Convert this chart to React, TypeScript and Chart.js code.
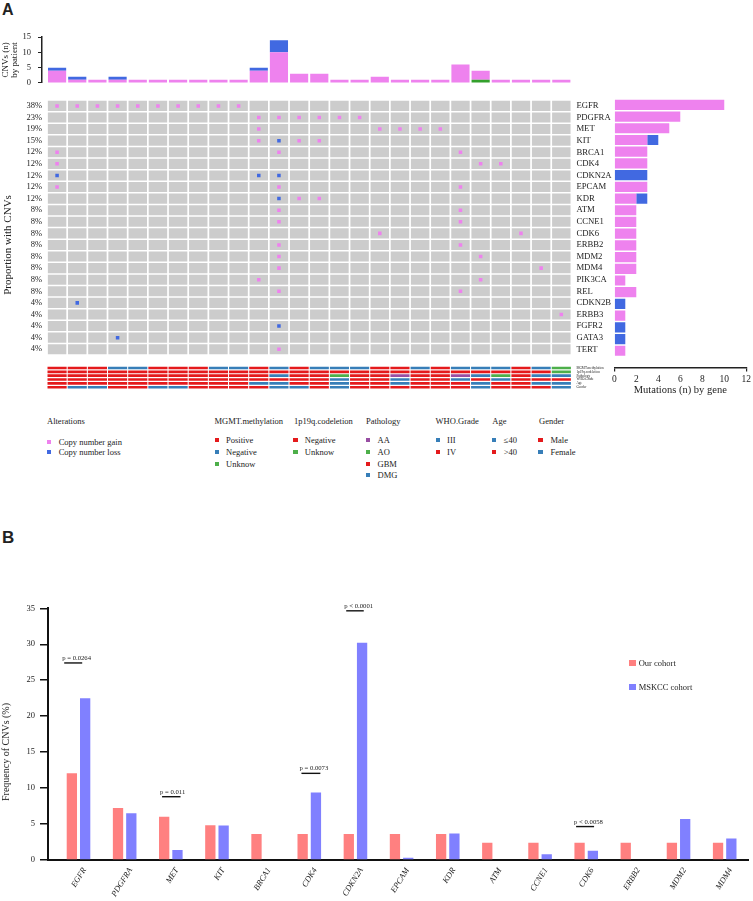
import React, { useEffect, useRef } from "react";
import { Chart, registerables } from "chart.js";
Chart.register(...registerables);

const SERIF = "'Liberation Serif', 'Times New Roman', Times, serif";
const SANS = "'Liberation Sans', Arial, sans-serif";
const TXT = "#222222";
const PINK = "#EE82EE";
const BLUE = "#4169E1";
const GREEN_OTHER = "#33A02C";
const GRAY = "#CCCCCC";
const RED = "#E41A1C";
const SBLUE = "#377EB8";
const SGREEN = "#4DAF4A";
const PURPLE = "#984EA3";
const SALMON = "#FF8080";
const LAVENDER = "#8080FF";

Chart.defaults.font.family = SERIF;
Chart.defaults.color = TXT;

// ---------------- Panel A data ----------------
const nPatients = 26;
const gainPerPatient = [4, 1, 1, 1, 1, 1, 1, 1, 1, 1, 4, 10, 3, 3, 1, 1, 2, 1, 1, 1, 6, 3, 1, 1, 1, 1];
const lossPerPatient = [1, 1, 0, 1, 0, 0, 0, 0, 0, 0, 1, 4, 0, 0, 0, 0, 0, 0, 0, 0, 0, 0, 0, 0, 0, 0];
const otherPerPatient = [0, 0, 0, 0, 0, 0, 0, 0, 0, 0, 0, 0, 0, 0, 0, 0, 0, 0, 0, 0, 0, 1, 0, 0, 0, 0];
const topTicks = [0, 5, 10, 15];

const genes = ["EGFR", "PDGFRA", "MET", "KIT", "BRCA1", "CDK4", "CDKN2A", "EPCAM", "KDR", "ATM", "CCNE1", "CDK6", "ERBB2", "MDM2", "MDM4", "PIK3CA", "REL", "CDKN2B", "ERBB3", "FGFR2", "GATA3", "TERT"];
const genePct = ["38%", "23%", "19%", "15%", "12%", "12%", "12%", "12%", "12%", "8%", "8%", "8%", "8%", "8%", "8%", "8%", "8%", "4%", "4%", "4%", "4%", "4%"];
// patients (column index) with copy number gain, per gene
const gainCells = [
  [0, 1, 2, 3, 4, 5, 6, 7, 8, 9],
  [10, 11, 12, 13, 14, 15],
  [10, 16, 17, 18, 19],
  [10, 12, 13],
  [0, 11, 20],
  [0, 21, 22],
  [],
  [0, 11, 20],
  [12, 13],
  [11, 20],
  [11, 20],
  [16, 23],
  [11, 20],
  [11, 21],
  [11, 24],
  [10, 21],
  [11, 20],
  [],
  [25],
  [],
  [],
  [11],
];
// patients with copy number loss, per gene
const lossCells = [[], [], [], [11], [], [], [0, 10, 11], [], [11], [], [], [], [], [], [], [], [], [1], [], [11], [3], []];
const geneGainCount = [10, 6, 5, 3, 3, 3, 0, 3, 2, 2, 2, 2, 2, 2, 2, 1, 2, 0, 1, 0, 0, 1];
const geneLossCount = [0, 0, 0, 1, 0, 0, 3, 0, 1, 0, 0, 0, 0, 0, 0, 0, 0, 1, 0, 1, 1, 0];
const geneAxisTicks = [0, 2, 4, 6, 8, 10, 12];

const trackNames = ["MGMT.methylation", "1p19q.codeletion", "Pathology", "WHO.Grade", "Age", "Gender"];
const mgmt = ["Positive", "Positive", "Positive", "Negative", "Negative", "Positive", "Positive", "Positive", "Negative", "Negative", "Positive", "Negative", "Positive", "Negative", "Negative", "Negative", "Positive", "Positive", "Negative", "Positive", "Negative", "Negative", "Negative", "Positive", "Negative", "Unknow"];
const codeletion = ["Negative", "Negative", "Negative", "Negative", "Negative", "Negative", "Negative", "Negative", "Negative", "Negative", "Negative", "Negative", "Negative", "Negative", "Negative", "Negative", "Negative", "Negative", "Negative", "Negative", "Negative", "Negative", "Negative", "Negative", "Negative", "Unknow"];
const pathology = ["GBM", "GBM", "GBM", "GBM", "GBM", "GBM", "GBM", "GBM", "GBM", "GBM", "GBM", "DMG", "GBM", "GBM", "AO", "GBM", "GBM", "AA", "GBM", "GBM", "AA", "DMG", "AO", "GBM", "DMG", "DMG"];
const whoGrade = ["IV", "IV", "IV", "IV", "IV", "IV", "IV", "IV", "IV", "IV", "IV", "IV", "IV", "IV", "III", "IV", "IV", "III", "IV", "IV", "III", "IV", "III", "IV", "IV", "IV"];
const age = [">40", ">40", ">40", ">40", ">40", ">40", ">40", ">40", ">40", ">40", "≤40", "≤40", ">40", ">40", "≤40", ">40", ">40", "≤40", ">40", ">40", ">40", "≤40", ">40", ">40", "≤40", "≤40"];
const gender = ["Male", "Female", "Female", "Male", "Male", "Female", "Female", "Male", "Male", "Male", "Male", "Female", "Female", "Male", "Female", "Male", "Male", "Male", "Male", "Male", "Male", "Female", "Male", "Male", "Male", "Female"];

const mgmtLevels = ["Positive", "Negative", "Unknow"];
const mgmtColors = [RED, SBLUE, SGREEN];
const codelLevels = ["Negative", "Unknow"];
const codelColors = [RED, SGREEN];
const pathLevels = ["AA", "AO", "GBM", "DMG"];
const pathColors = [PURPLE, SGREEN, RED, SBLUE];
const whoLevels = ["III", "IV"];
const whoColors = [SBLUE, RED];
const ageLevels = ["≤40", ">40"];
const ageColors = [SBLUE, RED];
const genderLevels = ["Male", "Female"];
const genderColors = [RED, SBLUE];

const altLevels = ["Copy number gain", "Copy number loss"];
const altColors = [PINK, BLUE];

// ---------------- Panel B data ----------------
const cnvGenes = ["EGFR", "PDGFRA", "MET", "KIT", "BRCA1", "CDK4", "CDKN2A", "EPCAM", "KDR", "ATM", "CCNE1", "CDK6", "ERBB2", "MDM2", "MDM4"];
const ourCohort = [12.05, 7.23, 6.02, 4.82, 3.61, 3.61, 3.61, 3.61, 3.61, 2.41, 2.41, 2.41, 2.41, 2.41, 2.41];
const mskccCohort = [22.5, 6.5, 1.4, 4.8, 0, 9.4, 30.2, 0.3, 3.7, 0, 0.8, 1.3, 0, 5.7, 3.0];
const pGene = [0, 2, 5, 6, 11];
const pText = ["p = 0.0264", "p = 0.011", "p = 0.0073", "p < 0.0001", "p < 0.0058"];
const pLevel = [27.4, 8.8, 12.05, 34.65, 4.65];
const pFrom = [-0.31, -0.19, -0.17, -0.2, -0.22];
const pTo = [0.08, 0.21, 0.24, 0.18, 0.17];
const freqTicks = [0, 5, 10, 15, 20, 25, 30, 35];

// ---------------- layout constants ----------------
const ROWS = genes.length;
const TRACK_START = 23.0;
const TRACK_PITCH = 0.333;
const TRACK_H = 0.23;
const GRID_MAX = TRACK_START + TRACK_PITCH * 6;
const ROW_PX = 11.71;

const tracks = [
  { values: mgmt, levels: mgmtLevels, colors: mgmtColors },
  { values: codeletion, levels: codelLevels, colors: codelColors },
  { values: pathology, levels: pathLevels, colors: pathColors },
  { values: whoGrade, levels: whoLevels, colors: whoColors },
  { values: age, levels: ageLevels, colors: ageColors },
  { values: gender, levels: genderLevels, colors: genderColors },
];

const cols = Array.from({ length: nPatients }, (_, c) => c);

function cfgTop(): any {
  const mk = (vals: number[], color: string) => ({
    data: vals.map((v, c) => ({ x: c, y: v || null })),
    backgroundColor: color,
    barPercentage: 0.9,
    categoryPercentage: 1,
  });
  return {
    type: "bar",
    data: { datasets: [mk(otherPerPatient, GREEN_OTHER), mk(gainPerPatient, PINK), mk(lossPerPatient, BLUE)] },
    options: {
      animation: false,
      responsive: false,
      events: [],
      layout: { padding: { top: 8.7, bottom: 7.7, left: 0, right: 8.6 } },
      plugins: { legend: { display: false }, tooltip: { enabled: false } },
      scales: {
        x: { type: "linear", offset: false, min: -0.748, max: 25.5, display: false, stacked: true },
        y: {
          type: "linear",
          min: 0,
          max: 15,
          stacked: true,
          afterFit: (s: any) => { s.width = 42; },
          afterBuildTicks: (s: any) => { s.ticks = topTicks.map((v) => ({ value: v })); },
          ticks: { autoSkip: false, padding: 7, font: { family: SERIF, size: 8.5 }, color: TXT },
          grid: { drawOnChartArea: false, drawTicks: true, tickLength: 4, color: "#222", lineWidth: 1 },
          border: { display: true, color: "#222", width: 1.5 },
          title: {
            display: true,
            text: ["CNVs (n)", "by patient"],
            font: { family: SERIF, size: 9, lineHeight: 0.95 },
            padding: { top: 1.8, bottom: 0 },
            color: TXT,
          },
        },
      },
    },
  };
}

function cfgGrid(): any {
  const cellSets = genes.map((_, r) => ({
    type: "bar",
    data: cols.map((c) => ({ x: c, y: [r + 0.065, r + 0.935] })),
    backgroundColor: GRAY,
    barPercentage: 0.915,
    categoryPercentage: 1,
    grouped: false,
    order: 2,
  }));
  const trackSets = tracks.map((t, k) => ({
    type: "bar",
    data: cols.map((c) => ({ x: c, y: [TRACK_START + k * TRACK_PITCH, TRACK_START + k * TRACK_PITCH + TRACK_H] })),
    backgroundColor: t.values.map((v) => t.colors[t.levels.indexOf(v)]),
    barPercentage: 0.95,
    categoryPercentage: 1,
    grouped: false,
    order: 2,
  }));
  const gainPts: any[] = [];
  gainCells.forEach((list, r) => list.forEach((c) => gainPts.push({ x: c, y: r + 0.5 })));
  const lossPts: any[] = [];
  lossCells.forEach((list, r) => list.forEach((c) => lossPts.push({ x: c, y: r + 0.5 })));
  const mkPts = (pts: any[], color: string) => ({
    type: "scatter",
    data: pts,
    pointStyle: "rect",
    pointRadius: 2.5,
    pointHoverRadius: 2.5,
    pointBorderWidth: 0,
    pointBackgroundColor: color,
    backgroundColor: color,
    borderColor: color,
    order: 0,
  });
  const rightLabels = [...genes, ...trackNames];
  const rightValues = [
    ...genes.map((_, i) => i + 0.5),
    ...trackNames.map((_, k) => TRACK_START + k * TRACK_PITCH + TRACK_H / 2),
  ];
  return {
    type: "bar",
    data: { datasets: [mkPts(gainPts, PINK), mkPts(lossPts, BLUE), ...cellSets, ...trackSets] },
    options: {
      animation: false,
      responsive: false,
      events: [],
      layout: { padding: { top: 9, bottom: 310 - 9 - GRID_MAX * ROW_PX, left: 0, right: 0 } },
      plugins: { legend: { display: false }, tooltip: { enabled: false } },
      scales: {
        x: { type: "linear", offset: false, min: -0.5, max: 25.5, display: false },
        y: {
          type: "linear",
          position: "left",
          offset: false,
          reverse: true,
          min: 0,
          max: GRID_MAX,
          afterFit: (s: any) => { s.width = 47; },
          afterBuildTicks: (s: any) => { s.ticks = genes.map((_, i) => ({ value: i + 0.5 })); },
          ticks: {
            autoSkip: false,
            padding: 5,
            callback: (_v: any, i: number) => genePct[i],
            font: { family: SERIF, size: 8.5 },
            color: TXT,
          },
          grid: { display: false, drawTicks: false },
          border: { display: false },
          title: {
            display: true,
            text: "Proportion with CNVs",
            font: { family: SERIF, size: 11, lineHeight: 1.2 },
            padding: { top: 1.5, bottom: 0 },
            color: TXT,
          },
        },
        y2: {
          type: "linear",
          position: "right",
          offset: false,
          reverse: true,
          min: 0,
          max: GRID_MAX,
          afterFit: (s: any) => { s.width = 48.6; },
          afterBuildTicks: (s: any) => { s.ticks = rightValues.map((v) => ({ value: v })); },
          ticks: {
            autoSkip: false,
            padding: 5,
            callback: (_v: any, i: number) => rightLabels[i],
            font: (ctx: any) => ({ family: SERIF, size: ctx.index < ROWS ? 8.7 : 3.4 }),
            color: TXT,
          },
          grid: { display: false, drawTicks: false },
          border: { display: false },
        },
      },
    },
  };
}

function cfgRight(): any {
  return {
    type: "bar",
    data: {
      datasets: [
        { data: geneGainCount.map((v, r) => ({ x: v || null, y: r + 0.5 })), backgroundColor: PINK },
        { data: geneLossCount.map((v, r) => ({ x: v || null, y: r + 0.5 })), backgroundColor: BLUE },
      ],
    },
    options: {
      indexAxis: "y",
      animation: false,
      responsive: false,
      events: [],
      layout: { padding: { top: 9, left: 9.3, right: 5.3, bottom: 310 - 9 - 22.92 * ROW_PX - 28 } },
      plugins: { legend: { display: false }, tooltip: { enabled: false } },
      datasets: { bar: { barPercentage: 0.87, categoryPercentage: 1 } },
      scales: {
        y: { type: "linear", offset: false, reverse: true, min: 0, max: 22.92, display: false, stacked: true },
        x: {
          type: "linear",
          position: "bottom",
          offset: false,
          min: 0,
          max: 12,
          stacked: true,
          afterFit: (s: any) => { s.height = 28; },
          afterBuildTicks: (s: any) => { s.ticks = geneAxisTicks.map((v) => ({ value: v })); },
          ticks: { autoSkip: false, padding: 2, maxRotation: 0, font: { family: SERIF, size: 9.5 }, color: TXT },
          grid: {
            drawOnChartArea: false,
            drawTicks: true,
            tickLength: 4,
            color: (ctx: any) => (ctx.tick && (ctx.tick.value === 0 || ctx.tick.value === 12) ? "#222" : "rgba(0,0,0,0)"),
            lineWidth: 1.2,
          },
          border: { display: true, color: "#222", width: 1.5 },
          title: {
            display: true,
            text: "Mutations (n) by gene",
            font: { family: SERIF, size: 10.5, lineHeight: 1 },
            padding: { top: 0, bottom: 0 },
            color: TXT,
          },
        },
      },
    },
  };
}

const pValuePlugin = {
  id: "pvalues",
  afterDatasetsDraw(chart: any) {
    const { ctx, scales } = chart;
    const x = scales.x;
    const y = scales.y;
    ctx.save();
    pGene.forEach((g, i) => {
      const x0 = x.getPixelForValue(g + pFrom[i]);
      const x1 = x.getPixelForValue(g + pTo[i]);
      const yy = y.getPixelForValue(pLevel[i]);
      ctx.strokeStyle = "#111";
      ctx.lineWidth = 1.4;
      ctx.beginPath();
      ctx.moveTo(x0, yy);
      ctx.lineTo(x1, yy);
      ctx.stroke();
      ctx.font = `6.7px ${SERIF}`;
      ctx.fillStyle = TXT;
      ctx.textAlign = "left";
      ctx.textBaseline = "alphabetic";
      ctx.fillText(pText[i], x0 - 2, yy - 3);
    });
    ctx.restore();
  },
};

function cfgB(): any {
  const mk = (vals: number[], color: string) => ({
    data: vals.map((v, i) => ({ x: i, y: v })),
    backgroundColor: color,
    barPercentage: 0.775,
    categoryPercentage: 0.576,
  });
  return {
    type: "bar",
    data: { datasets: [mk(ourCohort, SALMON), mk(mskccCohort, LAVENDER)] },
    plugins: [pValuePlugin],
    options: {
      animation: false,
      responsive: false,
      events: [],
      layout: { padding: { top: 18.3, bottom: 0, left: 0, right: 5 } },
      plugins: { legend: { display: false }, tooltip: { enabled: false } },
      scales: {
        x: {
          type: "linear",
          offset: false,
          min: -0.661,
          max: 14.505,
          afterFit: (s: any) => { s.height = 41; },
          afterBuildTicks: (s: any) => { s.ticks = cnvGenes.map((_, i) => ({ value: i })); },
          ticks: {
            autoSkip: false,
            minRotation: 58,
            maxRotation: 58,
            padding: 6,
            labelOffset: 6,
            callback: (_v: any, i: number) => cnvGenes[i],
            font: { family: SERIF, size: 8.3, style: "italic" },
            color: TXT,
          },
          grid: { display: false, drawTicks: false },
          border: { display: true, color: "#111", width: 2 },
        },
        y: {
          type: "linear",
          min: 0,
          max: 35,
          afterFit: (s: any) => { s.width = 48; },
          afterBuildTicks: (s: any) => { s.ticks = freqTicks.map((v) => ({ value: v })); },
          ticks: { autoSkip: false, padding: 5, font: { family: SERIF, size: 8.5 }, color: TXT },
          grid: { drawOnChartArea: false, drawTicks: true, tickLength: 8, color: "#111", lineWidth: 1.5 },
          border: { display: true, color: "#111", width: 2 },
        },
      },
    },
  };
}

function Txt(props: { x: number; y: number; text: string; size?: number; align?: "left" | "center"; family?: string; weight?: string; rotate?: boolean }) {
  const { x, y, text, size = 8.5, align = "left", family = SERIF, weight = "normal", rotate = false } = props;
  const tx = align === "center" || rotate ? "-50%" : "0";
  return (
    <div
      style={{
        position: "absolute",
        left: x,
        top: y,
        transform: `translate(${tx}, -50%)${rotate ? " rotate(-90deg)" : ""}`,
        fontFamily: family,
        fontSize: size,
        fontWeight: weight as any,
        lineHeight: 1,
        whiteSpace: "nowrap",
        color: TXT,
      }}
    >
      {text}
    </div>
  );
}

function Sq(props: { x: number; y: number; color: string; size: number }) {
  const { x, y, color, size } = props;
  return (
    <div style={{ position: "absolute", left: x - size / 2, top: y - size / 2, width: size, height: size, background: color }} />
  );
}

const legendHeaderY = 421;
const legendRowY = [440, 452.3, 464.3, 475];
const altRowY = [442, 452.3];

const legendGroups = [
  { title: "MGMT.methylation", levels: mgmtLevels, colors: mgmtColors, hx: 214.5, sx: 216.7, tx: 226 },
  { title: "1p19q.codeletion", levels: codelLevels, colors: codelColors, hx: 294, sx: 295.4, tx: 304.8 },
  { title: "Pathology", levels: pathLevels, colors: pathColors, hx: 366, sx: 368, tx: 377.5 },
  { title: "WHO.Grade", levels: whoLevels, colors: whoColors, hx: 435.6, sx: 438.3, tx: 447.1 },
  { title: "Age", levels: ageLevels, colors: ageColors, hx: 492.3, sx: 494.2, tx: 503.8 },
  { title: "Gender", levels: genderLevels, colors: genderColors, hx: 539, sx: 540.4, tx: 550.5 },
];

export default function App() {
  const a1 = useRef<HTMLCanvasElement>(null);
  const a2 = useRef<HTMLCanvasElement>(null);
  const a3 = useRef<HTMLCanvasElement>(null);
  const b1 = useRef<HTMLCanvasElement>(null);

  useEffect(() => {
    const charts = [
      new Chart(a1.current as HTMLCanvasElement, cfgTop()),
      new Chart(a2.current as HTMLCanvasElement, cfgGrid()),
      new Chart(a3.current as HTMLCanvasElement, cfgRight()),
      new Chart(b1.current as HTMLCanvasElement, cfgB()),
    ];
    return () => charts.forEach((c) => c.destroy());
  }, []);

  const cv = (left: number, top: number, w: number, h: number) => ({
    position: "absolute" as const,
    left,
    top,
    width: w,
    height: h,
  });

  return (
    <div style={{ position: "absolute", left: 0, top: 0, width: 753, height: 901, background: "#fff", overflow: "hidden" }}>
      <Txt x={2} y={10} text="A" size={16} family={SANS} weight="bold" />
      <canvas ref={a1} width={580} height={70} style={cv(0, 25, 580, 70)} />
      <canvas ref={a2} width={620} height={310} style={cv(0, 90, 620, 310)} />
      <canvas ref={a3} width={148} height={310} style={cv(605, 90, 148, 310)} />

      <Txt x={47} y={legendHeaderY} text="Alterations" />
      {altLevels.map((l, i) => (
        <React.Fragment key={l}>
          <Sq x={49} y={altRowY[i]} color={altColors[i]} size={4.3} />
          <Txt x={58.7} y={altRowY[i]} text={l} />
        </React.Fragment>
      ))}
      {legendGroups.map((g) => (
        <React.Fragment key={g.title}>
          <Txt x={g.hx} y={legendHeaderY} text={g.title} />
          {g.levels.map((l, i) => (
            <React.Fragment key={l}>
              <Sq x={g.sx} y={legendRowY[i]} color={g.colors[i]} size={4.3} />
              <Txt x={g.tx} y={legendRowY[i]} text={l} />
            </React.Fragment>
          ))}
        </React.Fragment>
      ))}

      <Txt x={2} y={537} text="B" size={17} family={SANS} weight="bold" />
      <canvas ref={b1} width={753} height={311} style={cv(0, 590, 753, 311)} />
      <Txt x={6} y={752} text="Frequency of  CNVs (%)" size={10} rotate />
      <Sq x={632.5} y={663} color={SALMON} size={6.2} />
      <Txt x={638.7} y={663} text="Our cohort" />
      <Sq x={632.5} y={687} color={LAVENDER} size={6.2} />
      <Txt x={638.7} y={687} text="MSKCC cohort" />
    </div>
  );
}
